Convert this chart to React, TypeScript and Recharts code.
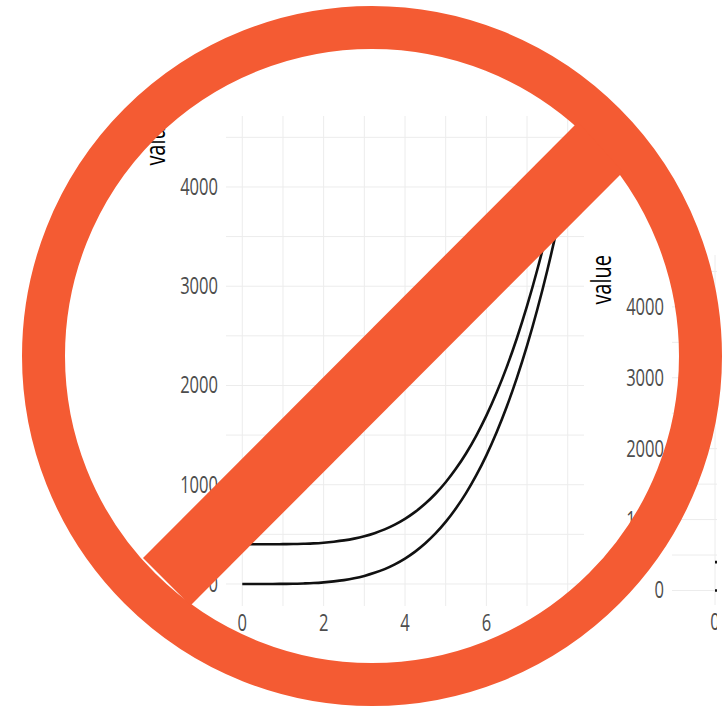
import React from "react";
import { LineChart, Line, XAxis, YAxis, CartesianGrid } from "recharts";

const xValues = [0, 0.25, 0.5, 0.75, 1, 1.25, 1.5, 1.75, 2, 2.25, 2.5, 2.75, 3, 3.25, 3.5, 3.75, 4, 4.25, 4.5, 4.75, 5, 5.25, 5.5, 5.75, 6, 6.25, 6.5, 6.75, 7, 7.25, 7.5, 7.75, 8];
const lowerValues = [0, 0, 0, 0, 1, 2, 5, 9, 16, 26, 39, 57, 81, 112, 150, 198, 256, 326, 410, 509, 625, 760, 915, 1093, 1296, 1526, 1785, 2076, 2401, 2763, 3164, 3608, 4096];
const upperValues = [400, 400, 400, 400, 401, 402, 405, 409, 416, 426, 439, 457, 481, 512, 550, 598, 656, 726, 810, 909, 1025, 1160, 1315, 1493, 1696, 1926, 2185, 2476, 2801, 3163, 3564, 4008, 4496];
const xTicks = [0, 2, 4, 6, 8];
const xGrid = [0, 1, 2, 3, 4, 5, 6, 7, 8];
const yTicks = [0, 1000, 2000, 3000, 4000];
const yGrid = [0, 500, 1000, 1500, 2000, 2500, 3000, 3500, 4000, 4500];

const rows = xValues.map((x, i) => ({ x, lower: lowerValues[i], upper: upperValues[i] }));

const FONT = '"Open Sans", sans-serif';
const INK = "#111111";
const GRID = "#ececec";
const TICK = "#4d4d4d";
const ORANGE = "#f45b33";

const AxisTitle = ({ viewBox }: any) => {
  const x = viewBox.x - 1;
  const y = viewBox.y;
  return (
    <text transform={`translate(${x} ${y}) rotate(-90) scale(0.74 1)`} textAnchor="end" fontFamily={FONT} fontSize={27} fill="#000">
      value
    </text>
  );
};

const YTick = ({ x, y, payload }: any) => (
  <text transform={`translate(${x} ${y + 8}) scale(0.72 1)`} textAnchor="end" fontFamily={FONT} fontSize={23} fill={TICK}>
    {payload.value}
  </text>
);

const XTick = ({ x, y, payload }: any) => (
  <text transform={`translate(${x} ${y + 11}) scale(0.72 1)`} textAnchor="middle" fontFamily={FONT} fontSize={23} fill={TICK}>
    {payload.value}
  </text>
);

type PanelProps = {
  width: number;
  left: number;
  top: number;
  rightMargin: number;
  bottomEdge: number;
  yDomain: [number, number];
};

const AXIS_W = 60;
const AXIS_H = 40;

function Panel({ width, left, top, rightMargin, bottomEdge, yDomain }: PanelProps) {
  return (
    <LineChart
      width={width}
      height={708}
      data={rows}
      margin={{ left: left - AXIS_W, top, right: rightMargin, bottom: 708 - bottomEdge - AXIS_H }}
      style={{ position: "absolute", left: 0, top: 0 }}
    >
      <CartesianGrid stroke={GRID} strokeWidth={1} horizontalValues={yGrid} verticalValues={xGrid} />
      <XAxis
        dataKey="x"
        type="number"
        domain={[-0.4, 8.4]}
        ticks={xTicks}
        interval={0}
        height={AXIS_H}
        axisLine={false}
        tickLine={false}
        tickMargin={8}
        tick={<XTick />}
      />
      <YAxis
        type="number"
        domain={yDomain}
        ticks={yTicks}
        interval={0}
        width={AXIS_W}
        axisLine={false}
        tickLine={false}
        tickMargin={2}
        tick={<YTick />}
        label={<AxisTitle />}
      />
      <Line dataKey="lower" type="monotone" stroke={INK} strokeWidth={2.6} dot={false} isAnimationActive={false} />
      <Line dataKey="upper" type="monotone" stroke={INK} strokeWidth={2.6} dot={false} isAnimationActive={false} />
    </LineChart>
  );
}

export default function App() {
  return (
    <div style={{ position: "absolute", left: 0, top: 0, width: 725, height: 708, overflow: "hidden", background: "#fff" }}>
      <div style={{ position: "absolute", left: 0, top: 0, width: 717, height: 708, overflow: "hidden" }}>
        <Panel width={725} left={226} top={116} rightMargin={141} bottomEdge={606} yDomain={[-222, 4715]} />
        <Panel width={1618} left={672} top={255} rightMargin={0} bottomEdge={605} yDomain={[-205, 4732]} />
      </div>
      <svg width={725} height={708} style={{ position: "absolute", left: 0, top: 0, pointerEvents: "none" }}>
        <circle cx={372} cy={356} r={328.5} fill="none" stroke={ORANGE} strokeWidth={43} />
        <polygon points="143,558 190.5,605.5 623,172 578,122" fill={ORANGE} />
      </svg>
    </div>
  );
}
